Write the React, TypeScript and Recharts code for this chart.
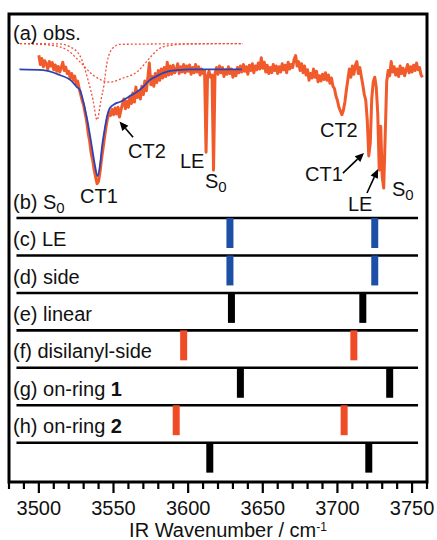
import { ComposedChart, Line, XAxis, YAxis, ReferenceLine, ReferenceDot, ReferenceArea } from 'recharts';

const FONT = "'Liberation Sans', Arial, Helvetica, sans-serif";
const ORANGE = '#f15a2b';
const STICK_ORANGE = '#ef4b26';
const BLUE = '#1d4fa6';
const FIT_BLUE = '#2a44b8';

// observed spectrum, transmittance % sampled every 1 cm-1 from 3500
const OBS_START = 3500;
const obsT = [
  103.5, 101.0, 102.6, 100.4, 102.0, 101.2, 99.8, 101.8, 100.6, 101.5,
  99.6, 100.9, 99.2, 100.5, 99.0, 100.2, 101.6, 99.4, 100.3, 98.6,
  99.2, 97.4, 98.6, 96.8, 97.9, 95.8, 96.6, 94.6, 93.0, 91.4,
  90.2, 88.0, 86.0, 82.8, 80.6, 77.4, 75.6, 73.0, 71.0, 69.2,
  69.8, 72.4, 75.8, 78.6, 81.6, 84.4, 86.6, 88.2, 87.4, 89.0,
  87.6, 89.4, 87.8, 89.6, 87.0, 88.8, 90.4, 91.8, 89.2, 91.2,
  89.6, 92.4, 90.6, 93.4, 91.0, 95.0, 92.2, 93.8, 91.8, 95.2,
  93.0, 96.6, 94.0, 97.4, 101.4, 95.6, 97.8, 95.2, 98.6, 96.2,
  99.4, 96.8, 99.8, 97.4, 100.2, 97.8, 101.6, 98.2, 100.6, 98.4,
  100.8, 98.8, 99.6, 101.2, 98.6, 100.4, 99.0, 101.0, 98.8, 100.6,
  99.2, 100.9, 98.4, 100.2, 98.8, 101.0, 99.0, 100.4, 98.2, 99.8,
  98.6, 99.4, 77.6, 98.0, 99.2, 97.6, 98.2, 72.8, 98.6, 100.2,
  98.4, 100.6, 98.8, 100.2, 97.8, 99.6, 98.4, 100.4, 98.6, 99.8,
  97.6, 99.4, 98.0, 100.2, 98.8, 100.6, 99.0, 101.0, 99.2, 100.4,
  98.4, 100.8, 99.4, 101.2, 98.8, 100.6, 99.6, 101.4, 99.8, 102.8,
  100.0, 101.6, 99.0, 100.8, 98.6, 100.2, 98.8, 101.0, 99.4, 100.6,
  98.6, 100.4, 99.0, 101.2, 99.6, 100.8, 98.8, 101.6, 99.8, 101.0,
  100.2, 102.4, 103.4, 100.6, 101.8, 99.4, 101.2, 98.8, 100.6, 98.2,
  99.6, 96.8, 98.6, 97.4, 99.8, 97.6, 99.2, 96.4, 98.0, 96.6,
  98.4, 97.0, 98.8, 96.8, 98.2, 96.0, 97.4, 95.2, 94.6, 92.6,
  91.4, 89.6, 88.6, 87.6, 88.8, 91.0, 94.2, 97.0, 99.8, 97.6,
  100.6, 98.4, 100.8, 101.8, 98.6, 100.2, 97.8, 95.6, 93.0, 91.4,
  86.0, 76.6, 80.0, 92.0, 96.4, 97.6, 95.0, 88.0, 72.8, 84.5,
  71.0, 68.0, 82.0, 96.4, 99.4, 98.0, 101.8, 99.0, 100.4, 98.2,
  99.8, 97.8, 100.6, 98.6, 100.0, 98.0, 99.6, 101.0, 98.8, 100.4,
  99.0, 100.8, 99.4, 101.4, 99.6, 100.2, 98.2, 97.6,
];

// fitted envelope (blue)
const fitWn = [3487, 3503, 3514, 3521, 3525.5, 3527.5, 3530, 3532, 3534, 3535.5, 3537.5, 3539.3,
  3541, 3542.3, 3544, 3545.6, 3547.6, 3551, 3554.3, 3561, 3565.7, 3569.8, 3574.4, 3579, 3583, 3588, 3592.5, 3601, 3636];
const fitT = [99.7, 99.5, 98.2, 96.9, 95.0, 94.2, 90.7, 87.0, 82.7, 79.0, 74.2, 71.2,
  74.2, 79.0, 83.5, 87.0, 89.4, 90.5, 91.0, 92.6, 93.7, 95.0, 96.9, 97.9, 98.7, 99.3, 99.5, 99.7, 99.7];

// fit components (dashed), offset above the spectrum
const narrowWn = [3487.4, 3514, 3521, 3527.6, 3532.9, 3536.3, 3539, 3541.6, 3543.6, 3545.6, 3549.5, 3554.3, 3636.7];
const narrowT = [106.6, 106.5, 105.7, 103.3, 96.9, 91.5, 86.2, 91.5, 95.5, 101.4, 105.4, 106.4, 106.6];
const broadWn = [3487.4, 3507.5, 3518.9, 3527.6, 3536.3, 3547.7, 3556.4, 3565.7, 3574.4, 3581.1, 3589.9, 3601.2, 3636.7];
const broadT = [106.6, 106.2, 104.9, 101.7, 98.2, 96.3, 97.4, 99.0, 102.8, 105.4, 106.2, 106.5, 106.6];

// stick spectra (b)-(h), wavenumbers in cm-1
const stickRows = [
  [3628, 3725],
  [3628, 3725],
  [3629, 3717],
  [3597, 3711],
  [3635, 3735],
  [3592, 3704.5],
  [3614.5, 3721],
];
const stickColors = [BLUE, BLUE, '#000', STICK_ORANGE, '#000', STICK_ORANGE, '#000'];

type Seg = { t: string; sub?: boolean; bold?: boolean };
const rowLabels: Seg[][] = [
  [{ t: '(b) S' }, { t: '0', sub: true }],
  [{ t: '(c) LE' }],
  [{ t: '(d) side' }],
  [{ t: '(e) linear' }],
  [{ t: '(f) disilanyl-side' }],
  [{ t: '(g) on-ring ' }, { t: '1', bold: true }],
  [{ t: '(h) on-ring ' }, { t: '2', bold: true }],
];

const minorTicks = [3480, 3490, 3500, 3510, 3520, 3530, 3540, 3550, 3560, 3570, 3580, 3590, 3600, 3610, 3620,
  3630, 3640, 3650, 3660, 3670, 3680, 3690, 3700, 3710, 3720, 3730, 3740, 3750, 3760];
const majorTicks = [3500, 3550, 3600, 3650, 3700, 3750];

// layout
const X_DOMAIN: [number, number] = [3480, 3760];
const Y_DOMAIN: [number, number] = [-0.05, 12.45];
const SPEC_BASE = 11;
const SPEC_SCALE = 0.1;
const STICK_LEN = 0.8;
const LINE_FROM = 3485;
const LINE_TO = 3754;
const toV = (t: number) => SPEC_BASE + (t - 100) * SPEC_SCALE;

const obsData = obsT.map((t, i) => ({ wn: OBS_START + i, v: toV(t) }));
const fitData = fitWn.map((wn, i) => ({ wn, v: toV(fitT[i]) }));
const narrowData = narrowWn.map((wn, i) => ({ wn, v: toV(narrowT[i]) }));
const broadData = broadWn.map((wn, i) => ({ wn, v: toV(broadT[i]) }));
const rowBase = rowLabels.map((_, i) => rowLabels.length - i);

const peakNotes: { segs: Seg[]; wn: number; v: number }[] = [
  { segs: [{ t: '(a) obs.' }], wn: 3482.7, v: 11.76 },
  { segs: [{ t: 'CT1' }], wn: 3527.6, v: 7.4 },
  { segs: [{ t: 'CT2' }], wn: 3559.7, v: 8.6 },
  { segs: [{ t: 'LE' }], wn: 3594.5, v: 8.34 },
  { segs: [{ t: 'S' }, { t: '0', sub: true }], wn: 3611.3, v: 7.8 },
  { segs: [{ t: 'CT2' }], wn: 3688.3, v: 9.16 },
  { segs: [{ t: 'CT1' }], wn: 3678.3, v: 7.99 },
  { segs: [{ t: 'LE' }], wn: 3707, v: 7.18 },
  { segs: [{ t: 'S' }, { t: '0', sub: true }], wn: 3736.5, v: 7.59 },
];

const arrows = [
  { from: [3563.1, 9.16], to: [3554.0, 9.58] },
  { from: [3703.7, 8.2], to: [3717.8, 8.74] },
  { from: [3719.8, 7.67], to: [3727.2, 8.31] },
];

const renderSegs = (segs: Seg[]) =>
  segs.map((s, i) => (
    <tspan key={i} fontSize={s.sub ? 15 : 20} fontWeight={s.bold ? 'bold' : 'normal'} dy={s.sub ? 4 : 0}>
      {s.t}
    </tspan>
  ));

const noteShape = (segs: Seg[]) => (p: any) => (
  <text x={p.cx} y={p.cy} fontFamily={FONT} fontSize={20} fill="#111">
    {renderSegs(segs)}
  </text>
);

const ArrowShape = (p: any) => {
  const { x1, y1, x2, y2 } = p;
  const ang = Math.atan2(y2 - y1, x2 - x1);
  const len = 9;
  const half = 4;
  const bx = x2 - len * Math.cos(ang);
  const by = y2 - len * Math.sin(ang);
  const px = -Math.sin(ang) * half;
  const py = Math.cos(ang) * half;
  return (
    <g>
      <line x1={x1} y1={y1} x2={bx} y2={by} stroke="#000" strokeWidth={1.6} />
      <polygon points={`${x2},${y2} ${bx + px},${by + py} ${bx - px},${by - py}`} fill="#000" />
    </g>
  );
};

const AxisTick = (p: any) => {
  const { x, y, payload } = p;
  const major = majorTicks.includes(payload.value);
  return (
    <g>
      <line x1={x} y1={y} x2={x} y2={y + (major ? 11 : 7)} stroke="#000" strokeWidth={2.2} />
      {major && (
        <text x={x} y={y + 33} textAnchor="middle" fontSize={20} fontFamily={FONT} fill="#111">
          {payload.value}
        </text>
      )}
    </g>
  );
};

export default function App() {
  return (
    <div>
      <style>{'body{margin:0;overflow:hidden;background:#fff}'}</style>
      <ComposedChart width={437} height={540} margin={{ top: 14, right: 10, bottom: 28, left: 9 }}>
        <XAxis
          dataKey="wn"
          type="number"
          domain={X_DOMAIN}
          allowDataOverflow
          ticks={minorTicks}
          interval={0}
          height={30}
          tickSize={0}
          tickMargin={0}
          tickLine={false}
          tick={<AxisTick />}
          axisLine={false}
          label={{
            content: (lp: any) => {
              const vb = lp.viewBox;
              return (
                <text x={vb.x + vb.width / 2 + 10} y={vb.y + 55} textAnchor="middle" fontSize={20} fontFamily={FONT} fill="#111">
                  IR Wavenumber / cm
                  <tspan dy={-6} fontSize={12}>-1</tspan>
                </text>
              );
            },
          }}
        />
        <YAxis type="number" domain={Y_DOMAIN} allowDataOverflow hide />

        <ReferenceArea
          x1={X_DOMAIN[0]}
          x2={X_DOMAIN[1]}
          y1={Y_DOMAIN[0]}
          y2={Y_DOMAIN[1]}
          fill="none"
          fillOpacity={0}
          stroke="#000"
          strokeWidth={3}
          ifOverflow="visible"
        />

        <Line data={narrowData} dataKey="v" type="monotone" stroke="#f0503c" strokeWidth={1.3} strokeDasharray="2 2" dot={false} isAnimationActive={false} />
        <Line data={broadData} dataKey="v" type="monotone" stroke="#f0503c" strokeWidth={1.3} strokeDasharray="2 2" dot={false} isAnimationActive={false} />
        <Line data={obsData} dataKey="v" type="linear" stroke={ORANGE} strokeWidth={3} strokeLinejoin="round" dot={false} isAnimationActive={false} />
        <Line data={fitData} dataKey="v" type="monotone" stroke={FIT_BLUE} strokeWidth={1.8} dot={false} isAnimationActive={false} />

        {rowBase.map((b, i) => (
          <ReferenceLine key={`base${i}`} segment={[{ x: LINE_FROM, y: b }, { x: LINE_TO, y: b }]} stroke="#000" strokeWidth={2.6} />
        ))}
        {stickRows.map((row, i) =>
          row.map((wn, j) => (
            <ReferenceLine
              key={`st${i}-${j}`}
              segment={[{ x: wn, y: rowBase[i] }, { x: wn, y: rowBase[i] - STICK_LEN }]}
              stroke={stickColors[i]}
              strokeWidth={7}
            />
          )),
        )}
        {rowLabels.map((segs, i) => (
          <ReferenceDot key={`lab${i}`} x={3482.7} y={rowBase[i] + 0.25} r={0} shape={noteShape(segs)} />
        ))}
        {peakNotes.map((n, i) => (
          <ReferenceDot key={`pk${i}`} x={n.wn} y={n.v} r={0} shape={noteShape(n.segs)} />
        ))}
        {arrows.map((a, i) => (
          <ReferenceLine
            key={`ar${i}`}
            segment={[{ x: a.from[0], y: a.from[1] }, { x: a.to[0], y: a.to[1] }]}
            shape={ArrowShape}
          />
        ))}
      </ComposedChart>
    </div>
  );
}
